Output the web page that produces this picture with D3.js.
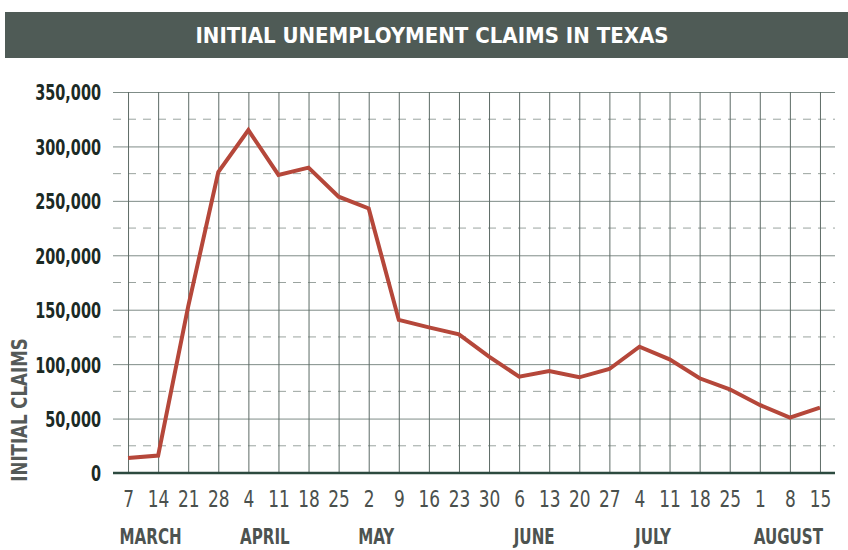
<!DOCTYPE html>
<html>
<head>
<meta charset="utf-8">
<script src="https://cdn.jsdelivr.net/npm/d3@7"></script>
<style>
  body { margin: 0; background: #fff; }
  svg { display: block; }
  .condensed { font-family: "DejaVu Sans Condensed", "DejaVu Sans", sans-serif; }
</style>
</head>
<body>
<svg></svg>
<script>
const svgWidth = 848;
const svgHeight = 550;
const margin = { top: 92, right: 13, bottom: 77, left: 113 };
const width = svgWidth - margin.left - margin.right;
const height = svgHeight - margin.top - margin.bottom;

// Weeks ending (2020)
const weeks = ["Mar 7", "Mar 14", "Mar 21", "Mar 28", "Apr 4", "Apr 11", "Apr 18", "Apr 25",
  "May 2", "May 9", "May 16", "May 23", "May 30", "Jun 6", "Jun 13", "Jun 20", "Jun 27",
  "Jul 4", "Jul 11", "Jul 18", "Jul 25", "Aug 1", "Aug 8", "Aug 15"];
const dayLabels = ["7", "14", "21", "28", "4", "11", "18", "25", "2", "9", "16", "23", "30",
  "6", "13", "20", "27", "4", "11", "18", "25", "1", "8", "15"];
const claims = [13800, 16000, 153000, 276500, 315000, 273800, 280500, 253800,
  243000, 140600, 133800, 127400, 106900, 88500, 93700, 87900, 95500,
  116000, 104400, 87000, 76900, 62500, 50800, 60000];
// month name and the (fractional) week position it sits under
const months = ["MARCH", "APRIL", "MAY", "JUNE", "JULY", "AUGUST"];
const monthPos = [0.75, 4.55, 8.25, 13.5, 17.45, 21.95];
const yTicks = [0, 50000, 100000, 150000, 200000, 250000, 300000, 350000];
const yMinor = [25000, 75000, 125000, 175000, 225000, 275000, 325000];

// the original type is a narrow condensed face, so squeeze DejaVu horizontally
const squeezeY = 0.73, squeezeX = 0.82, squeezeMonth = 0.8, squeezeLabel = 0.84;

const svg = d3.select("svg")
    .attr("width", svgWidth)
    .attr("height", svgHeight);

// Title bar
svg.append("rect")
    .attr("x", 5).attr("y", 12)
    .attr("width", svgWidth - 5).attr("height", 46)
    .attr("fill", "#4f5b56");
svg.append("text")
    .attr("class", "condensed")
    .attr("x", 432).attr("y", 43)
    .attr("text-anchor", "middle")
    .attr("fill", "#fff")
    .style("font-size", "22px")
    .style("font-weight", "bold")
    .text("INITIAL UNEMPLOYMENT CLAIMS IN TEXAS");

const g = svg.append("g")
    .attr("transform", `translate(${margin.left},${margin.top})`);

const x = d3.scalePoint()
    .domain(weeks)
    .range([0, width])
    .padding(0.5);

const y = d3.scaleLinear()
    .domain([0, 350000])
    .range([height, 0]);

// Dashed minor gridlines
g.selectAll(".minor")
    .data(yMinor)
    .enter()
    .append("line")
    .attr("class", "minor")
    .attr("x1", 0).attr("x2", width)
    .attr("y1", d => y(d)).attr("y2", d => y(d))
    .attr("stroke", "#9aa39f")
    .attr("stroke-width", 1)
    .attr("stroke-dasharray", "8,7");

// Y axis with solid gridlines
const yAxis = g.append("g")
    .attr("class", "condensed")
    .call(d3.axisLeft(y)
        .tickValues(yTicks)
        .tickSize(-width)
        .tickFormat(d3.format(",")));
yAxis.select(".domain").remove();
yAxis.selectAll(".tick line")
    .attr("stroke", "#7f8c87")
    .attr("stroke-width", 1);
yAxis.selectAll(".tick text")
    .attr("x", -12 / squeezeY)
    .attr("transform", `scale(${squeezeY},1)`)
    .attr("fill", "#1b2a25")
    .style("font-size", "22px")
    .style("font-weight", "bold")
    .attr("dy", "0.36em");

// X axis with vertical gridlines
const xAxis = g.append("g")
    .attr("class", "condensed")
    .attr("transform", `translate(0,${height})`)
    .call(d3.axisBottom(x)
        .tickSize(-height)
        .tickPadding(18)
        .tickFormat((d, i) => dayLabels[i]));
xAxis.select(".domain").remove();
xAxis.selectAll(".tick line")
    .attr("stroke", "#5d6b66")
    .attr("stroke-width", 1);
xAxis.selectAll(".tick text")
    .attr("transform", `scale(${squeezeX},1)`)
    .attr("fill", "#4a504d")
    .style("font-size", "23px");

// Zero baseline
g.append("line")
    .attr("x1", 0).attr("x2", width)
    .attr("y1", y(0)).attr("y2", y(0))
    .attr("stroke", "#2c4a3f")
    .attr("stroke-width", 2.5);

// Month labels
const step = x.step();
g.selectAll(".month")
    .data(months)
    .enter()
    .append("text")
    .attr("class", "month condensed")
    .attr("transform", (d, i) =>
        `translate(${x(weeks[0]) + monthPos[i] * step},${height + 71}) scale(${squeezeMonth},1)`)
    .attr("text-anchor", "middle")
    .attr("fill", "#4d5350")
    .style("font-size", "21px")
    .style("font-weight", "bold")
    .text(d => d);

// Claims line
const line = d3.line()
    .x((d, i) => x(weeks[i]))
    .y(d => y(d));

g.append("path")
    .datum(claims)
    .attr("fill", "none")
    .attr("stroke", "#b5473a")
    .attr("stroke-width", 4)
    .attr("stroke-linejoin", "miter")
    .attr("d", line);

// Y axis label
svg.append("text")
    .attr("class", "condensed")
    .attr("transform", `rotate(-90) scale(${squeezeLabel},1)`)
    .attr("x", -410 / squeezeLabel)
    .attr("y", 27)
    .attr("text-anchor", "middle")
    .attr("fill", "#555a58")
    .style("font-size", "22px")
    .style("font-weight", "bold")
    .text("INITIAL CLAIMS");
</script>
</body>
</html>
